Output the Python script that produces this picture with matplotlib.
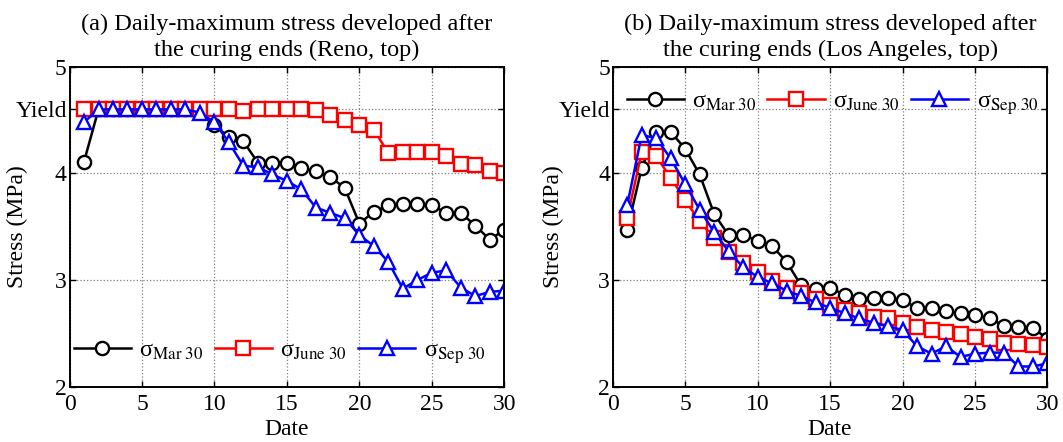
import numpy as np
import matplotlib
matplotlib.use('Agg')
import matplotlib.pyplot as plt

plt.rcParams['font.family'] = ['Liberation Serif', 'DejaVu Serif']
plt.rcParams['mathtext.fontset'] = 'stix'
plt.rcParams['font.size'] = 17

# daily-maximum stress (MPa), days 1..30
days = np.arange(1, 31)
yield_stress = 4.6

reno_mar = [4.11, 4.6, 4.6, 4.6, 4.6, 4.6, 4.6, 4.6, 4.6, 4.45,
            4.34, 4.30, 4.10, 4.10, 4.10, 4.05, 4.02, 3.97, 3.86, 3.53,
            3.64, 3.70, 3.71, 3.71, 3.70, 3.63, 3.63, 3.51, 3.38, 3.47]
reno_jun = [4.6, 4.6, 4.6, 4.6, 4.6, 4.6, 4.6, 4.6, 4.6, 4.6,
            4.6, 4.585, 4.6, 4.6, 4.6, 4.6, 4.59, 4.55, 4.50, 4.45,
            4.41, 4.19, 4.20, 4.20, 4.20, 4.16, 4.09, 4.08, 4.02, 4.00]
reno_sep = [4.48, 4.6, 4.6, 4.6, 4.6, 4.6, 4.6, 4.6, 4.57, 4.48,
            4.29, 4.07, 4.06, 3.99, 3.93, 3.85, 3.68, 3.63, 3.58, 3.42,
            3.32, 3.17, 2.92, 3.00, 3.07, 3.09, 2.93, 2.85, 2.89, 2.90]

la_mar = [3.47, 4.05, 4.39, 4.39, 4.23, 3.99, 3.62, 3.42, 3.42, 3.37,
          3.32, 3.17, 2.95, 2.92, 2.93, 2.86, 2.82, 2.83, 2.83, 2.81,
          2.74, 2.74, 2.71, 2.69, 2.67, 2.645, 2.57, 2.56, 2.55, 2.45]
la_jun = [3.58, 4.20, 4.16, 3.96, 3.75, 3.55, 3.39, 3.26, 3.16, 3.08,
          2.99, 2.93, 2.88, 2.82, 2.77, 2.72, 2.69, 2.65, 2.64, 2.60,
          2.56, 2.53, 2.51, 2.49, 2.47, 2.45, 2.41, 2.40, 2.39, 2.37]
la_sep = [3.70, 4.36, 4.33, 4.14, 3.90, 3.66, 3.45, 3.27, 3.12, 3.03,
          2.97, 2.90, 2.85, 2.79, 2.74, 2.69, 2.64, 2.60, 2.57, 2.53,
          2.38, 2.31, 2.38, 2.28, 2.31, 2.32, 2.32, 2.19, 2.19, 2.22]

labels = [u'σ$_{\\mathrm{Mar\\ 30}}$', u'σ$_{\\mathrm{June\\ 30}}$',
          u'σ$_{\\mathrm{Sep\\ 30}}$']
colors = ['black', 'red', 'blue']
markers = ['o', 's', '^']

titles = ['(a) Daily-maximum stress developed after\nthe curing ends (Reno, top)',
          '(b) Daily-maximum stress developed after\nthe curing ends (Los Angeles, top)']

fig = plt.figure(figsize=(10.63, 4.42), dpi=100)
ax1 = fig.add_axes([0.0654, 0.125, 0.409, 0.724])
ax2 = fig.add_axes([0.5764, 0.125, 0.409, 0.724])

panels = [(ax1, [reno_mar, reno_jun, reno_sep]), (ax2, [la_mar, la_jun, la_sep])]
ylabel_x = [-0.095, -0.112]

for i, (ax, series) in enumerate(panels):
    for s, c, m, lab in zip(series, colors, markers, labels):
        ax.plot(days, s, color=c, marker=m, markersize=10 if m == '^' else 9.5,
                markerfacecolor='white', markeredgecolor=c, markeredgewidth=1.7,
                linewidth=1.8, label=lab)
    ax.set_xlim(0, 30)
    ax.set_ylim(2, 5)
    ax.set_xticks([0, 5, 10, 15, 20, 25, 30])
    ax.set_yticks([2, 3, 4, yield_stress, 5])
    ax.set_yticklabels(['2', '3', '4', 'Yield', '5'])
    ax.grid(True, color='gray', linestyle=':', linewidth=0.9)
    ax.tick_params(direction='in', top=True, right=True, length=4, width=1,
                   labelsize=17)
    ax.tick_params(axis='x', pad=5)
    ax.tick_params(axis='y', pad=2)
    for sp in ax.spines.values():
        sp.set_linewidth(1.4)
    ax.set_xlabel('Date', fontsize=17, labelpad=3)
    ax.set_ylabel('Stress (MPa)', fontsize=17)
    ax.yaxis.set_label_coords(ylabel_x[i], 0.5)
    ax.set_title(titles[i], fontsize=17.5, linespacing=1.3, pad=8)

leg_kw = dict(ncol=3, frameon=False, fontsize=17.5, handlelength=2.35,
              columnspacing=0.45, handletextpad=0.35, borderaxespad=0.0,
              borderpad=0.0)
ax1.legend(loc='center left', bbox_to_anchor=(0.01, 0.105), **leg_kw)
ax2.legend(loc='center left', bbox_to_anchor=(0.032, 0.885), **leg_kw)

fig.savefig('out.png', dpi=100)
